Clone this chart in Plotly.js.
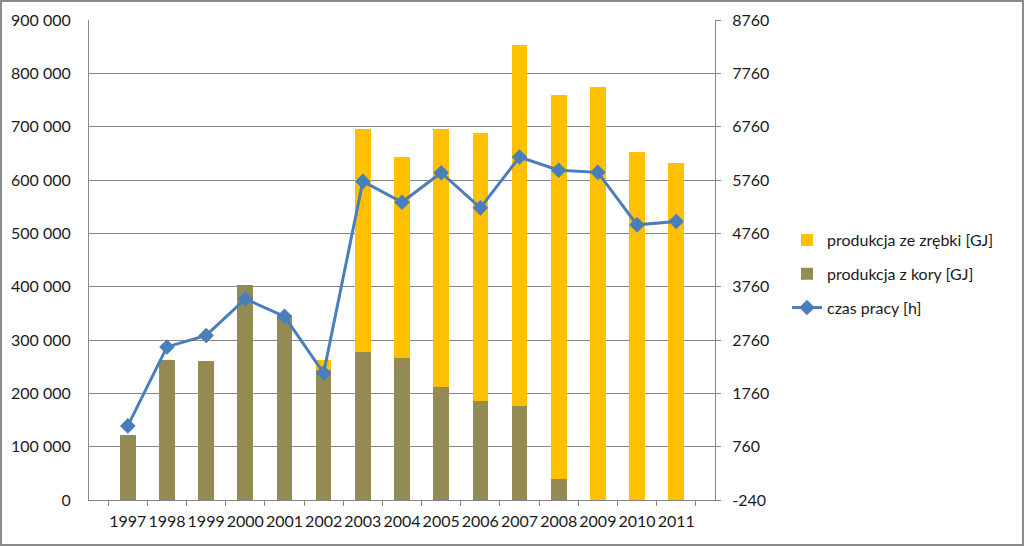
<!DOCTYPE html>
<html>
<head>
<meta charset="utf-8">
<script src="https://cdn.plot.ly/plotly-3.0.1.min.js"></script>
<style>
html,body{margin:0;padding:0;background:#fff;}
#chart{width:1020px;height:542px;border:2px solid #8a8a8a;}
</style>
</head>
<body>
<div id="chart"></div>
<script>
const years = ['1997','1998','1999','2000','2001','2002','2003','2004','2005','2006','2007','2008','2009','2010','2011'];
const produkcjaKora = [122600, 262800, 260900, 403000, 347000, 243000, 277800, 266100, 212600, 186500, 176100, 39100, 0, 0, 0];
const produkcjaZrebki = [0, 0, 0, 0, 0, 19000, 418700, 377600, 482600, 500900, 677600, 720000, 773500, 652200, 631300];
const czasPracy = [1149, 2630, 2845, 3530, 3203, 2140, 5734, 5343, 5897, 5238, 6190, 5943, 5903, 4919, 4984];

const leftTickVals = [0,100000,200000,300000,400000,500000,600000,700000,800000,900000];
const leftTickText = ['0','100 000','200 000','300 000','400 000','500 000','600 000','700 000','800 000','900 000'];
const rightTickVals = [-240,760,1760,2760,3760,4760,5760,6760,7760,8760];
const rightTickText = ['-240','760','1760','2760','3760','4760','5760','6760','7760','8760'];

const font = {family: 'Lato, "Open Sans", sans-serif', size: 16, color: '#1a1a1a'};

const traces = [
  {type:'bar', name:'produkcja z kory [GJ]', x: years, y: produkcjaKora,
   marker:{color:'#948A54'}, legendgroup:'b', legendrank: 2, hoverinfo:'y'},
  {type:'bar', name:'produkcja ze zrębki [GJ]', x: years, y: produkcjaZrebki,
   marker:{color:'#FFC000'}, legendgroup:'a', legendrank: 1, hoverinfo:'y'},
  {type:'scatter', mode:'lines+markers', name:'czas pracy [h]', x: years, y: czasPracy,
   yaxis:'y2', line:{color:'#4A7EBB', width:3}, legendgroup:'c',
   marker:{symbol:'diamond', size:12, color:'#4A7EBB'}, legendrank: 3}
];

const layout = {
  width: 1020, height: 542,
  margin: {l: 87, r: 307, t: 18, b: 44},
  paper_bgcolor: '#ffffff', plot_bgcolor: '#ffffff',
  font: font,
  barmode: 'stack',
  bargap: 0.6,
  showlegend: true,
  legend: {x: 1.115, y: 0.577, xanchor: 'left', yanchor: 'top',
           traceorder: 'grouped',
           font: {family: 'Lato, "Open Sans", sans-serif', size: 16, color: '#1a1a1a'},
           tracegroupgap: 10, itemwidth: 30},
  xaxis: {type:'category', showline:true, linecolor:'#868686', linewidth:1,
          ticks:'outside', tickson:'boundaries', ticklen:5, tickcolor:'#868686',
          tickangle: 0,
          showgrid:false, tickfont: font, ticklabelstandoff: 7},
  yaxis: {range:[0, 900000], tickvals: leftTickVals, ticktext: leftTickText,
          showline:true, linecolor:'#868686', linewidth:1, ticks:'',
          showgrid:true, gridcolor:'#868686', gridwidth:1, zeroline:false,
          tickfont: font, ticklabelstandoff: 14},
  yaxis2: {range:[-240, 8760], tickvals: rightTickVals, ticktext: rightTickText,
           overlaying:'y', side:'right', showline:true, linecolor:'#868686', linewidth:1,
           ticks:'outside', ticklen:5, tickcolor:'#868686', showgrid:false, zeroline:false,
           tickfont: font, ticklabelstandoff: 8}
};

Plotly.newPlot('chart', traces, layout, {displayModeBar:false, staticPlot:true});
</script>
</body>
</html>
